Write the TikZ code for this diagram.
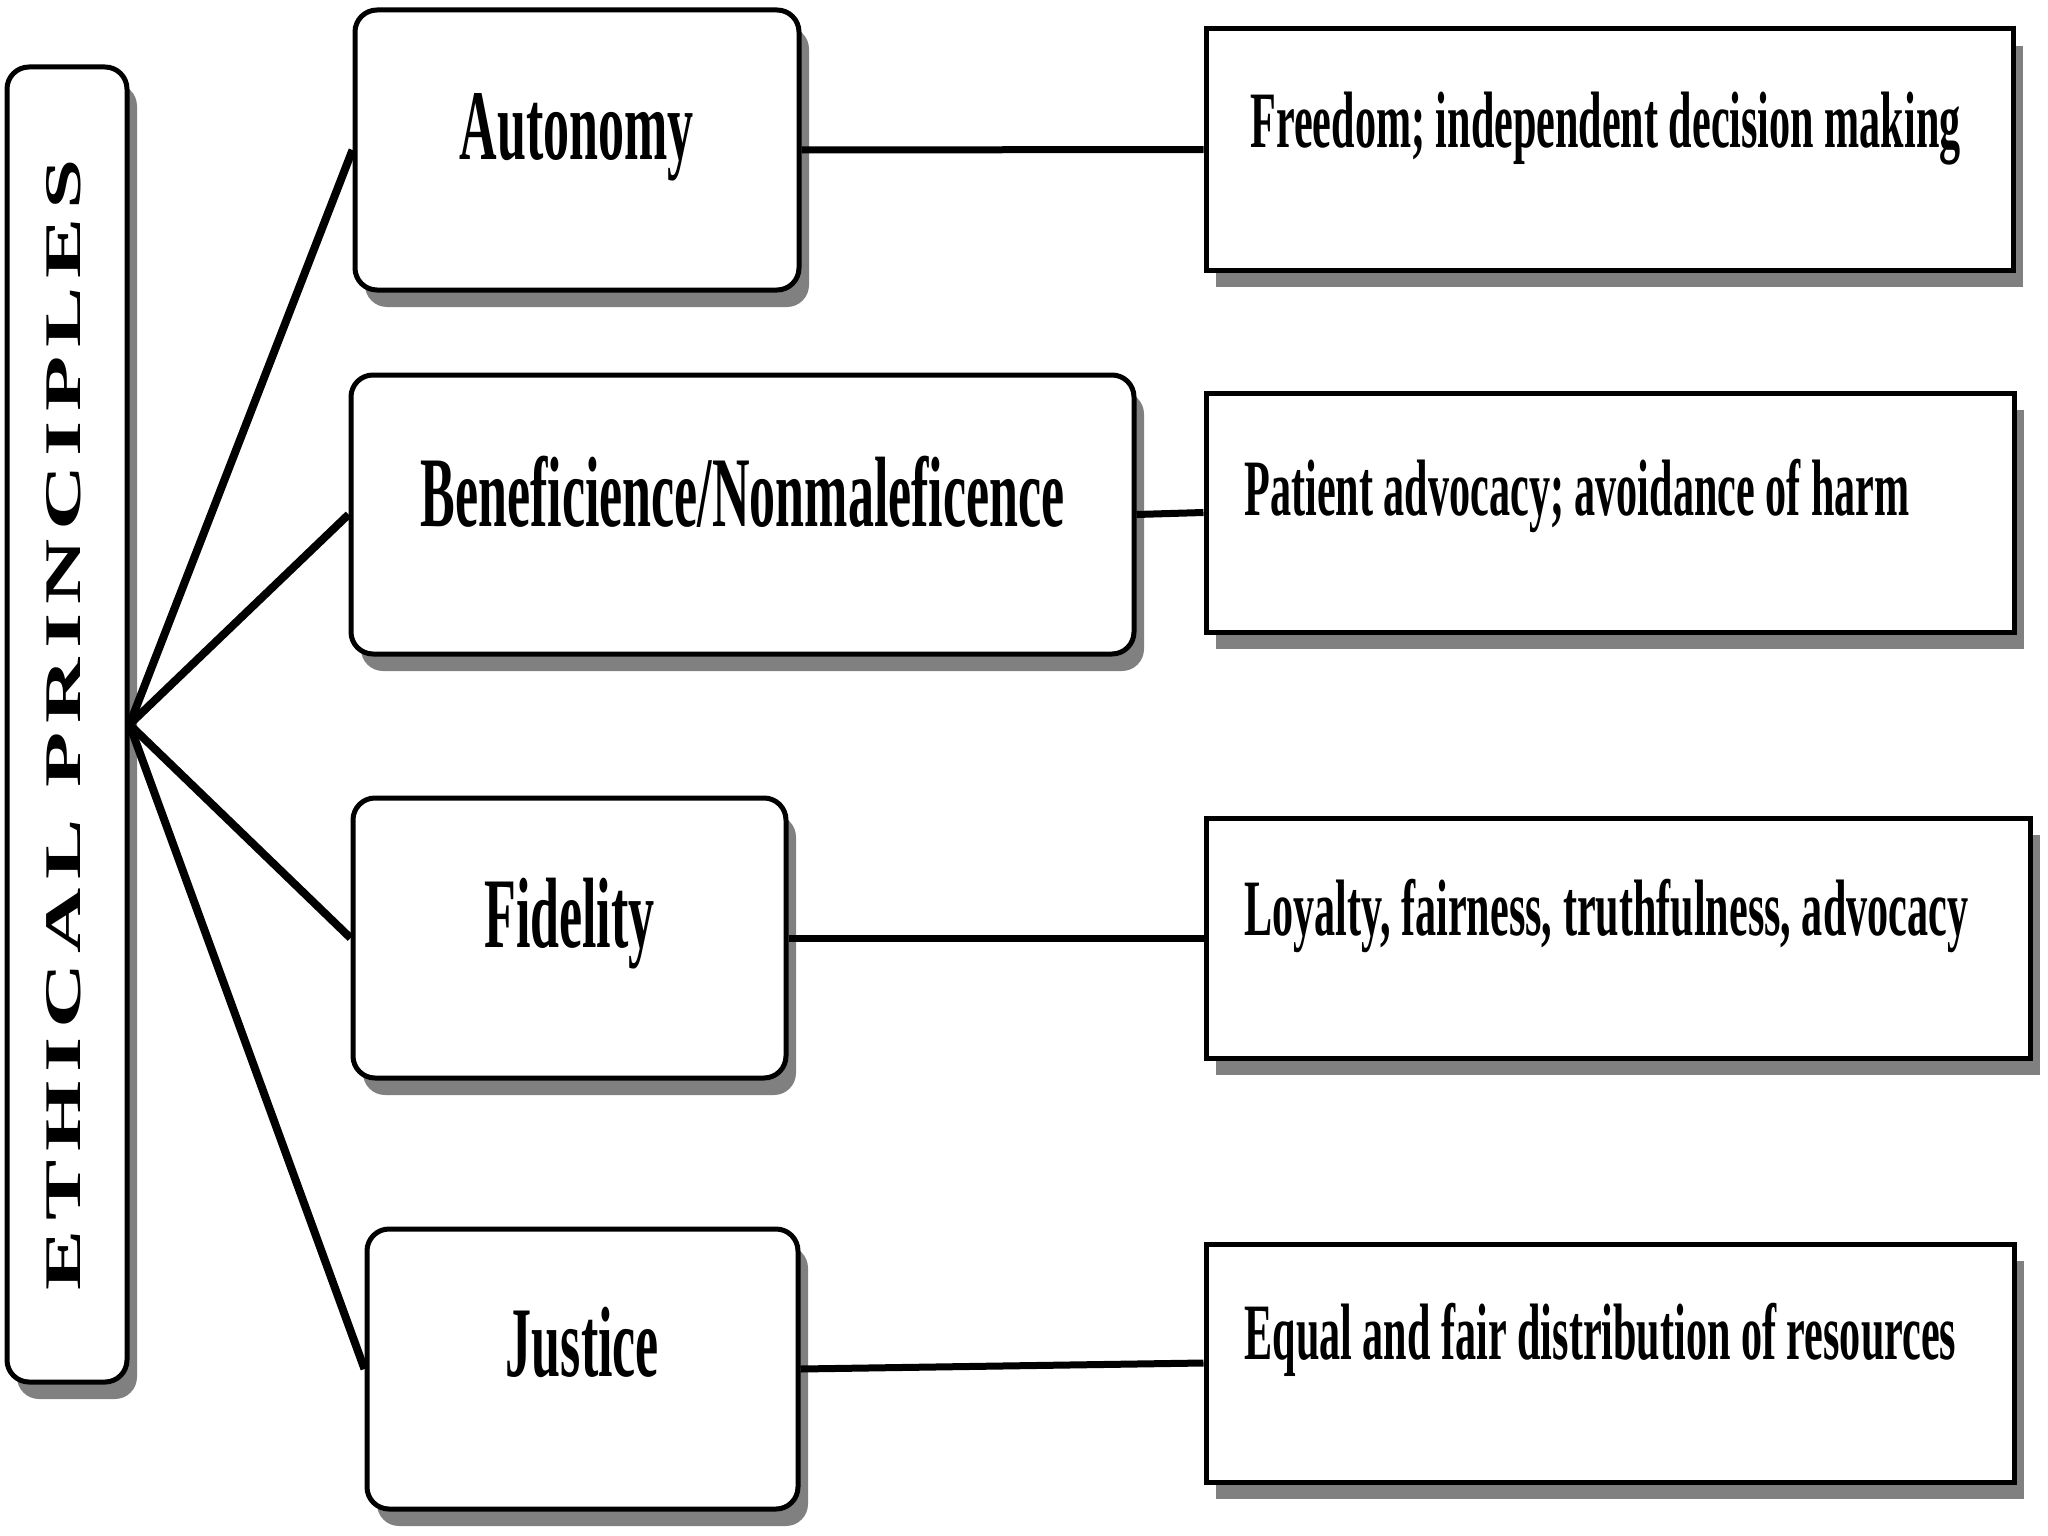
\documentclass[tikz,border=0pt]{standalone}
\usepackage{graphicx}
\usepackage{fontspec}
\setmainfont{Liberation Serif}
\usetikzlibrary{shadows}
\newcommand{\biglab}[1]{\scalebox{0.52}[1]{\fontsize{100}{120}\selectfont\bfseries #1}}
\newcommand{\smlab}[1]{\scalebox{0.527}[1]{\fontsize{80}{96}\selectfont\bfseries #1}}
\tikzset{
  shad/.style={drop shadow={shadow xshift=10pt, shadow yshift=-17pt, fill=black!50, opacity=1}},
  rbox/.style={draw, line width=5pt, fill=white, rounded corners=22pt, shad, inner sep=0pt},
  sbox/.style={draw, line width=5pt, fill=white, shad, inner sep=0pt},
  lab/.style={inner sep=0pt, outer sep=0pt},
  conn/.style={line width=8pt},
  hconn/.style={line width=7pt},
}
\begin{document}
\begin{tikzpicture}[x=1pt, y=-1pt]
\useasboundingbox (0,0) rectangle (2048,1536);
\fill[white] (0,0) rectangle (2048,1536);
% left vertical box
\node[rbox, minimum width=120pt, minimum height=1315pt] (eth) at (67,724.5) {};
\node[lab, rotate=90] (ethl) at ([xshift=-3pt]eth.center) {\resizebox{1131pt}{34pt}{\bfseries\addfontfeature{LetterSpace=10}ETHICAL PRINCIPLES}};
% middle rounded boxes
\node[rbox, minimum width=444pt, minimum height=280pt] (aut) at (577,150) {};
\node[rbox, minimum width=783pt, minimum height=279pt] (ben) at (742.5,514.5) {};
\node[rbox, minimum width=433pt, minimum height=280pt] (fid) at (569.5,938) {};
\node[rbox, minimum width=431pt, minimum height=280pt] (jus) at (582.5,1369) {};
\node[lab, anchor=base] (autl) at ([yshift=-152pt]aut.north) {\biglab{Autonomy}};
\node[lab, anchor=base] (benl) at ([yshift=-154pt]ben.north) {\biglab{Beneficience/Nonmaleficence}};
\node[lab, anchor=base] (fidl) at ([yshift=-152pt]fid.north) {\biglab{Fidelity}};
\node[lab, anchor=base] (jusl) at ([yshift=-150pt]jus.north) {\biglab{Justice}};
% right boxes
\node[sbox, minimum width=807pt, minimum height=241pt] (fre) at (1609.5,149.5) {};
\node[sbox, minimum width=808pt, minimum height=239pt] (pat) at (1610,512.5) {};
\node[sbox, minimum width=824pt, minimum height=240pt] (loy) at (1618,938) {};
\node[sbox, minimum width=808pt, minimum height=238pt] (equ) at (1610,1363) {};
\node[lab, anchor=base west] (frel) at ([shift={(47pt,-121pt)}]fre.north west) {\smlab{Freedom; independent decision making}};
\node[lab, anchor=base west] (patl) at ([shift={(41pt,-125pt)}]pat.north west) {\smlab{Patient advocacy; avoidance of harm}};
\node[lab, anchor=base west] (loyl) at ([shift={(41pt,-120pt)}]loy.north west) {\smlab{Loyalty, fairness, truthfulness, advocacy}};
\node[lab, anchor=base west] (equl) at ([shift={(41pt,-118pt)}]equ.north west) {\smlab{Equal and fair distribution of resources}};
% connectors
\draw[conn] (eth.east) -- (aut.west);
\draw[conn] (eth.east) -- (ben.west);
\draw[conn] (eth.east) -- (fid.west);
\draw[conn] (eth.east) -- (jus.west);
\draw[hconn] (aut.east) -- (fre.west);
\draw[hconn] (ben.east) -- (pat.west);
\draw[hconn] (fid.east) -- (loy.west);
\draw[hconn] (jus.east) -- (equ.west);
\end{tikzpicture}
\end{document}
